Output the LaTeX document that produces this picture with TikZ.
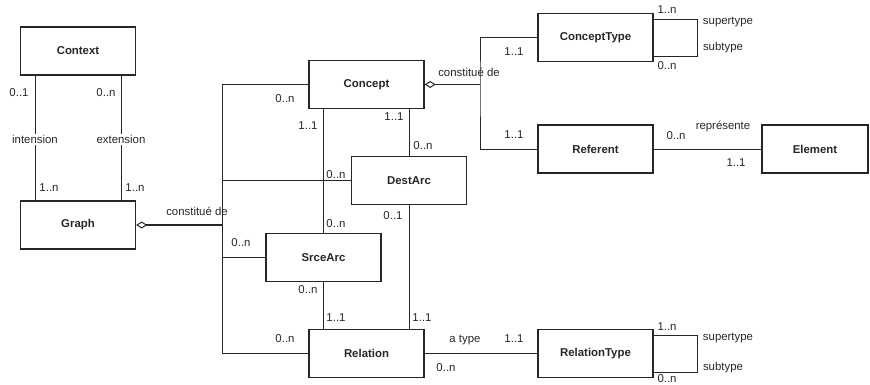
\documentclass[tikz,border=0pt]{standalone}
\usepackage{fontspec}
\setmainfont{Liberation Sans}
\usetikzlibrary{arrows.meta}
\definecolor{umlink}{gray}{0.15}
\newcommand{\umlsize}{\fontsize{11.4}{13}\selectfont}
\tikzstyle{entity} = [draw, rectangle, line width=1.4pt,
minimum width=115pt, minimum height=48pt, font=\umlsize\bfseries]
\tikzstyle{card} = [inner sep=0pt, font=\umlsize]
\tikzstyle{role} = [fill=white, inner sep=1.5pt, font=\umlsize]
\tikzstyle{link} = [line width=0.9pt]
\tikzstyle{aggr} = [line width=1.6pt,
{Diamond[open,length=11pt,width=7pt,line width=1pt]}-]

\begin{document}
\begin{tikzpicture}[x=1pt, y=-1pt, color=umlink]
	\useasboundingbox (0,0) rectangle (870,385);
	% We start by placing the entities
	\node [entity] (context) at (78,51) {Context};
	\node [entity] (graph) at (78,225) {Graph};
	\node [entity] (concept) at (366.5,84.5) {Concept};
	\node [entity] (destarc) at (409,180.5) {DestArc};
	\node [entity] (srcearc) at (323.5,257.5) {SrceArc};
	\node [entity] (relation) at (366.5,353.5) {Relation};
	\node [entity] (concepttype) at (595.5,37.5) {ConceptType};
	\node [entity] (referent) at (595.5,149) {Referent};
	\node [entity, minimum width=106pt] (element) at (815,149) {Element};
	\node [entity] (relationtype) at (595.5,353.5) {RelationType};

	% Junction points of the two aggregations
	\coordinate (bustop) at (222,84.5);
	\coordinate (busbot) at (222,353.5);
	\coordinate (cjoin) at (480,84.5);

	% Context - Graph
	\draw [link] (context.south -| 35,0) -- node[role, pos=0.51] {intension} (graph.north -| 35,0);
	\draw [link] (context.south -| 121,0) -- node[role, pos=0.51] {extension} (graph.north -| 121,0);

	% Graph is made of concepts, arcs and relations
	\draw [aggr] (graph.east) -- (bustop |- graph.east);
	\draw [link] (concept.west) -- (bustop) -- (busbot) -- (relation.west);
	\draw [link] (bustop |- destarc.west) -- (destarc.west);
	\draw [link] (bustop |- srcearc.west) -- (srcearc.west);

	% Arcs between concepts and relations
	\draw [link] (concept.south -| srcearc.north) -- (srcearc.north);
	\draw [link] (concept.south -| destarc.north) -- (destarc.north);
	\draw [link] (srcearc.south) -- (srcearc.south |- relation.north);
	\draw [link] (destarc.south) -- (destarc.south |- relation.north);

	% Concept is made of a type and a referent
	\draw [aggr] (concept.east) -- (cjoin);
	\draw [link] (concepttype.west) -| (cjoin) |- (referent.west);
	\draw [link] (referent) -- (element);
	\draw [link] (relation) -- (relationtype);

	% Type hierarchies
	\draw [link] ([yshift=18.5pt]concepttype.east) -- ++(44,0) |- ([yshift=-18.5pt]concepttype.east);
	\draw [link] ([yshift=18.5pt]relationtype.east) -- ++(44,0) |- ([yshift=-18.5pt]relationtype.east);

	% Cardinalities and role names
	\node [card] (c1) at (19,93) {0..1};
	\node [card] (c2) at (106,93) {0..n};
	\node [card] (c3) at (49,188) {1..n};
	\node [card] (c4) at (135,188) {1..n};
	\node [card] (g1) at (197,211) {constitué de};
	\node [card] (g2) at (285,99) {0..n};
	\node [card] (g3) at (336,175) {0..n};
	\node [card] (g4) at (241,243) {0..n};
	\node [card] (g5) at (285,339) {0..n};
	\node [card] (a1) at (308,126) {1..1};
	\node [card] (a2) at (336,224) {0..n};
	\node [card] (a3) at (394,117) {1..1};
	\node [card] (a4) at (423,146) {0..n};
	\node [card] (a5) at (308,290) {0..n};
	\node [card] (a6) at (336,318) {1..1};
	\node [card] (a7) at (393,216) {0..1};
	\node [card] (a8) at (422,318) {1..1};
	\node [card] (k1) at (469,72) {constitué de};
	\node [card] (k2) at (514,52) {1..1};
	\node [card] (k3) at (514,135) {1..1};
	\node [card] (t1) at (667,10) {1..n};
	\node [card] (t2) at (728,22) {supertype};
	\node [card] (t3) at (723,48) {subtype};
	\node [card] (t4) at (667,66) {0..n};
	\node [card] (e1) at (676,136) {0..n};
	\node [card] (e2) at (723,126) {représente};
	\node [card] (e3) at (736,163) {1..1};
	\node [card] (r1) at (465,340) {a type};
	\node [card] (r2) at (514,339) {1..1};
	\node [card] (r3) at (446,368) {0..n};
	\node [card] (s1) at (667,327) {1..n};
	\node [card] (s2) at (728,338) {supertype};
	\node [card] (s3) at (723,368) {subtype};
	\node [card] (s4) at (667,379) {0..n};
\end{tikzpicture}
\end{document}
